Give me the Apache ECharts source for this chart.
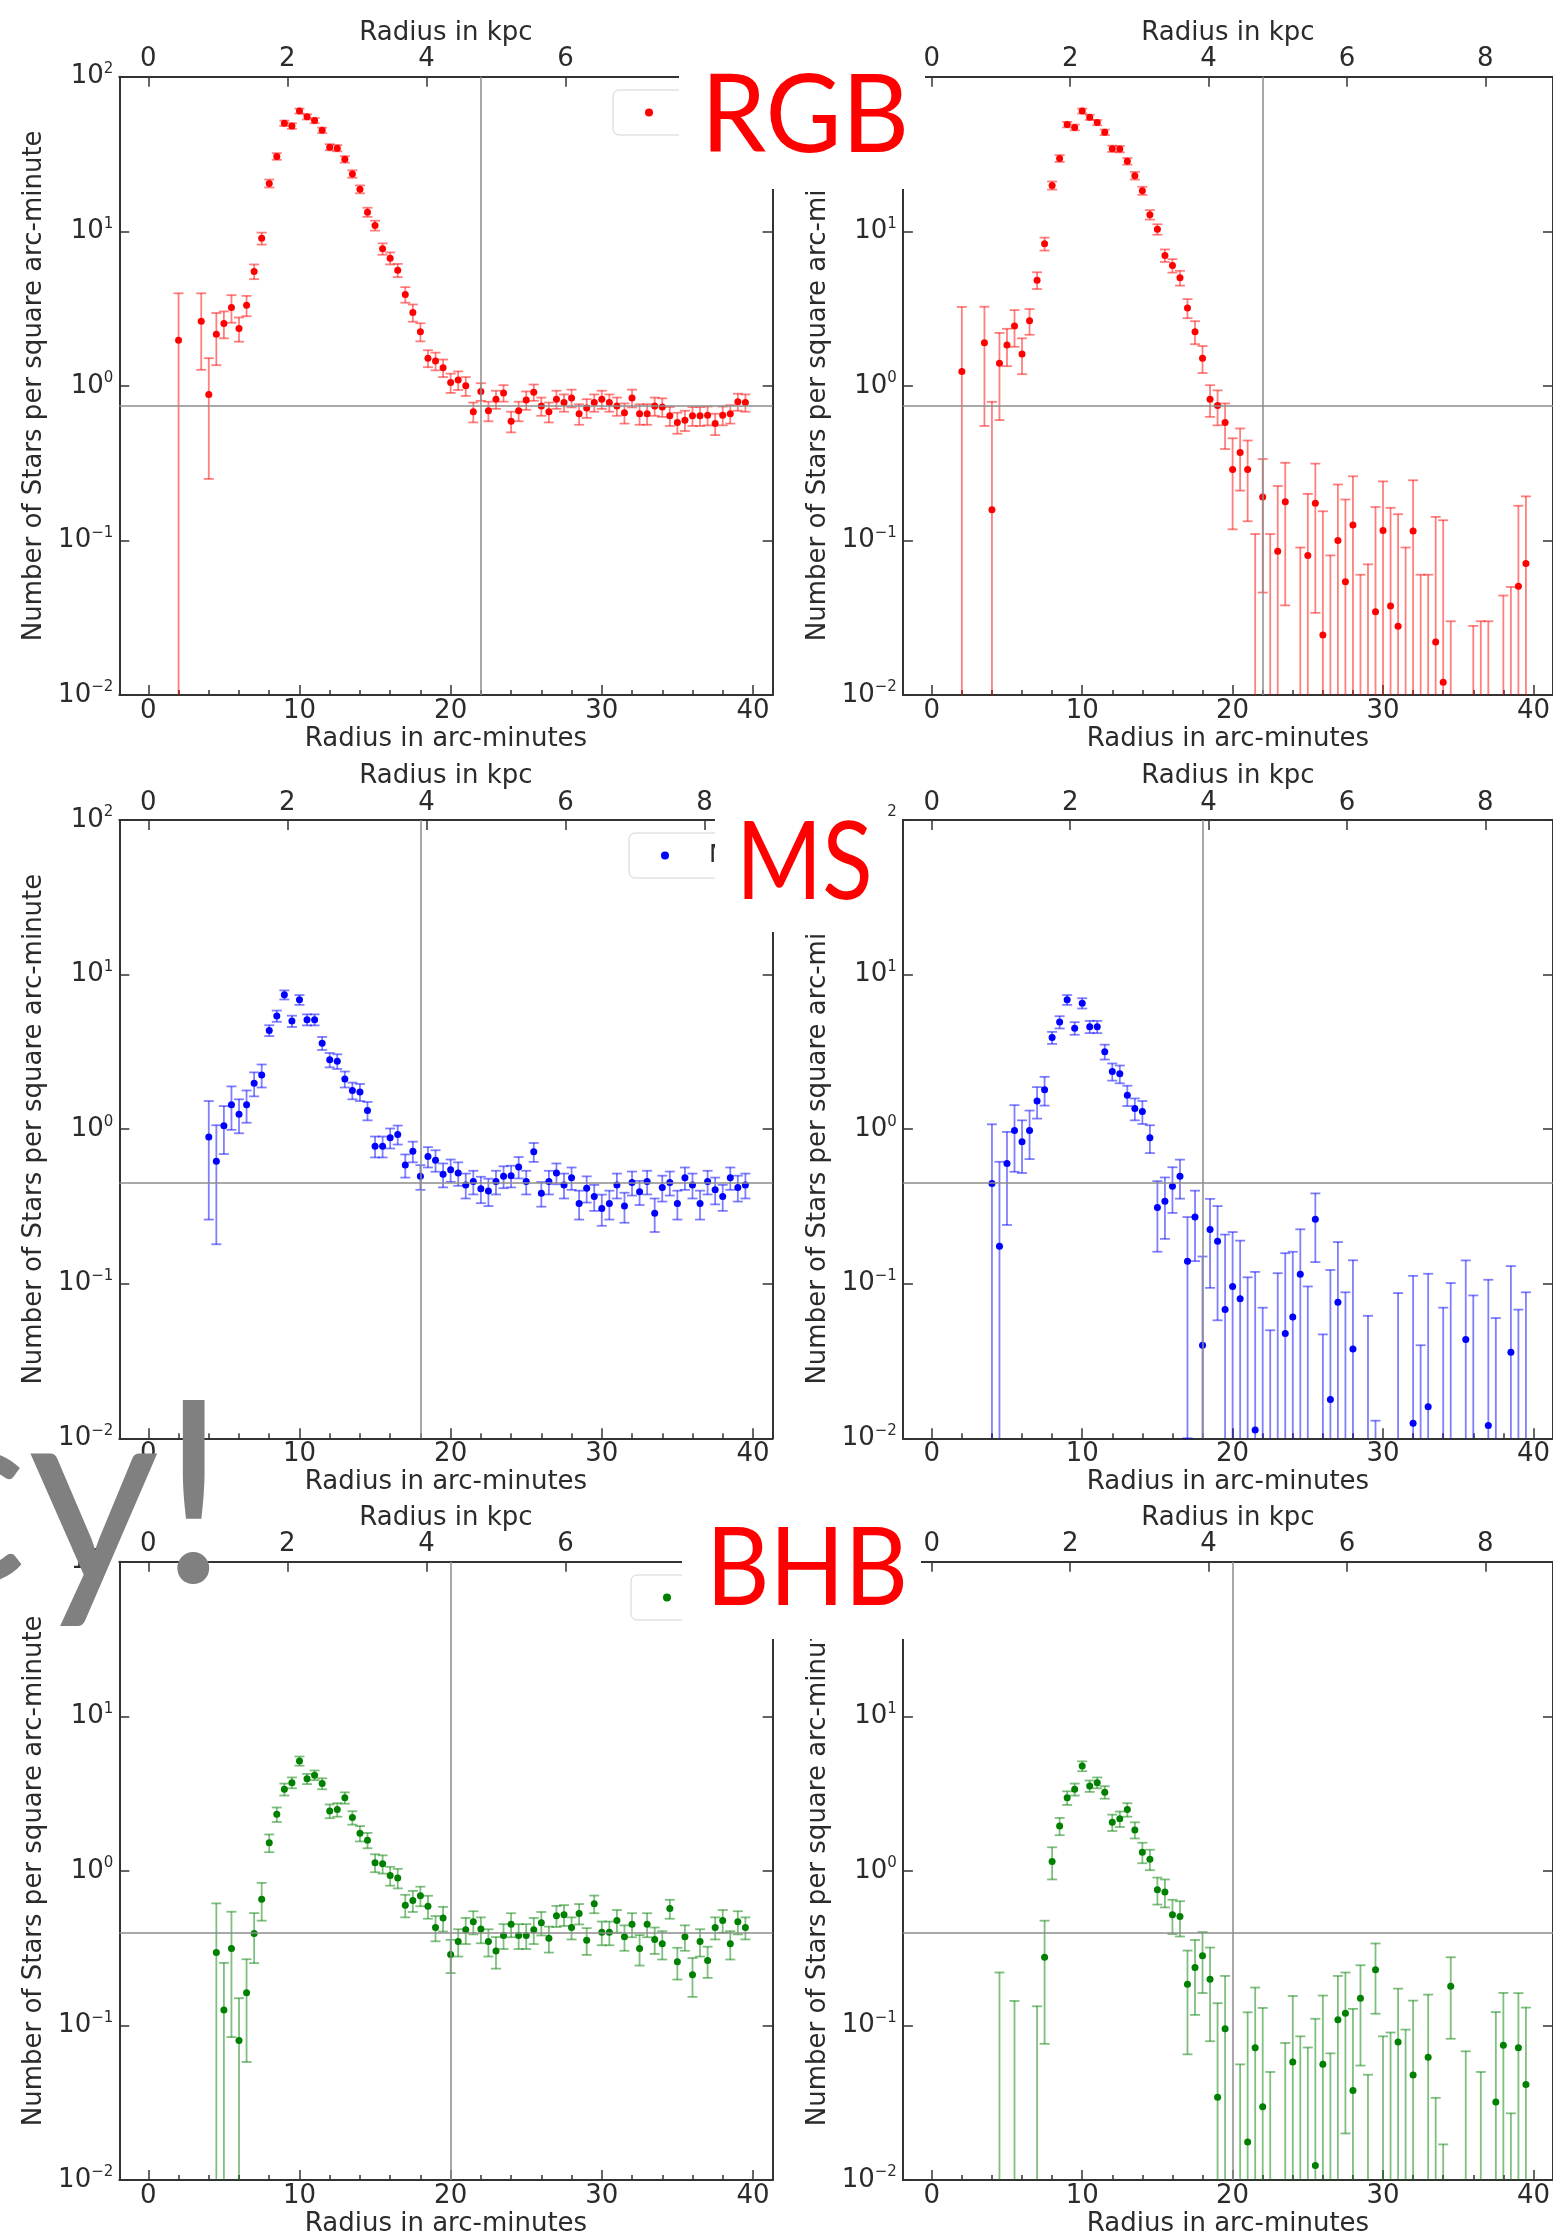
<!DOCTYPE html>
<html>
<head>
<meta charset="utf-8">
<title>Radial density profiles</title>
<script src="https://cdn.jsdelivr.net/npm/echarts@6/dist/echarts.min.js"></script>
<style>
  html, body { margin: 0; padding: 0; background: #fff; }
  #profiles { width: 1553px; height: 2239px; }
</style>
</head>
<body>
<div id="profiles"></div>
<script>
// bin centres, arc-minutes
const radius = [
  2, 2.5, 3, 3.5, 4, 4.5, 5, 5.5, 6, 6.5,
  7, 7.5, 8, 8.5, 9, 9.5, 10, 10.5, 11, 11.5,
  12, 12.5, 13, 13.5, 14, 14.5, 15, 15.5, 16, 16.5,
  17, 17.5, 18, 18.5, 19, 19.5, 20, 20.5, 21, 21.5,
  22, 22.5, 23, 23.5, 24, 24.5, 25, 25.5, 26, 26.5,
  27, 27.5, 28, 28.5, 29, 29.5, 30, 30.5, 31, 31.5,
  32, 32.5, 33, 33.5, 34, 34.5, 35, 35.5, 36, 36.5,
  37, 37.5, 38, 38.5, 39, 39.5
];

// RGB
const rgbAll = [
  1.97, null, null, 2.62, 0.88, 2.16, 2.53, 3.21, 2.35, 3.32,
  5.5, 9.0, 20.4, 30.5, 50, 48, 60, 55, 52, 45,
  35, 34.5, 29.2, 23.5, 18.7, 13.3, 10.9, 7.7, 6.7, 5.6,
  3.9, 2.98, 2.24, 1.51, 1.45, 1.31, 1.05, 1.09, 1.0, 0.68,
  0.92, 0.69, 0.82, 0.90, 0.59, 0.69, 0.81, 0.91, 0.74, 0.68,
  0.82, 0.78, 0.835, 0.66, 0.72, 0.78, 0.82, 0.78, 0.74, 0.67,
  0.835, 0.66, 0.66, 0.74, 0.73, 0.64, 0.58, 0.60, 0.64, 0.64,
  0.645, 0.57, 0.645, 0.66, 0.79, 0.78
];
const rgbAllErr = [
  2.0, null, null, 1.35, 0.63, 0.8, 0.5, 0.65, 0.42, 0.5,
  0.6, 0.8, 1.2, 1.5, 2.0, 2.0, 2.2, 2.1, 2.0, 1.8,
  1.6, 1.6, 1.4, 1.3, 1.1, 0.9, 0.8, 0.65, 0.6, 0.55,
  0.45, 0.38, 0.3, 0.19, 0.19, 0.17, 0.15, 0.15, 0.14, 0.1,
  0.12, 0.1, 0.11, 0.11, 0.09, 0.1, 0.11, 0.11, 0.1, 0.1,
  0.11, 0.1, 0.11, 0.1, 0.1, 0.1, 0.11, 0.1, 0.1, 0.1,
  0.11, 0.1, 0.1, 0.1, 0.1, 0.09, 0.09, 0.09, 0.09, 0.09,
  0.09, 0.09, 0.09, 0.09, 0.1, 0.1
];
const rgbSub = [
  1.24, null, null, 1.90, 0.158, 1.40, 1.84, 2.44, 1.61, 2.64,
  4.83, 8.3, 19.8, 29.6, 49, 47, 60, 54.6, 50.5, 43.7,
  34.2, 34, 28.4, 22.9, 18.3, 12.8, 10.3, 6.98, 6.0, 5.0,
  3.19, 2.24, 1.51, 0.82, 0.745, 0.58, 0.288, 0.37, 0.288, -0.06,
  0.191, -0.03, 0.085, 0.178, -0.15, -0.04, 0.08, 0.174, 0.0244, -0.05,
  0.1, 0.054, 0.126, -0.07, -0.06, 0.0345, 0.116, 0.0376, 0.0278, -0.04,
  0.115, -0.07, -0.07, 0.022, 0.0121, -0.09, -0.16, -0.14, -0.1, -0.1,
  -0.1, -0.17, -0.08, -0.07, 0.0506, 0.0708
];
const rgbSubErr = [
  2.0, null, null, 1.35, 0.63, 0.8, 0.5, 0.65, 0.42, 0.5,
  0.6, 0.8, 1.2, 1.5, 2.0, 2.0, 2.2, 2.1, 2.0, 1.8,
  1.6, 1.6, 1.4, 1.3, 1.1, 0.9, 0.8, 0.65, 0.6, 0.55,
  0.45, 0.38, 0.3, 0.19, 0.19, 0.19, 0.17, 0.16, 0.155, 0.17,
  0.145, 0.14, 0.14, 0.14, 0.12, 0.13, 0.12, 0.14, 0.13, 0.13,
  0.13, 0.13, 0.134, 0.13, 0.13, 0.13, 0.125, 0.125, 0.12, 0.13,
  0.13, 0.13, 0.13, 0.12, 0.123, 0.12, 0.12, 0.12, 0.128, 0.13,
  0.13, 0.12, 0.124, 0.12, 0.117, 0.122
];

// MS
const msAll = [
  null, null, null, null, 0.89, 0.62, 1.05, 1.44, 1.25, 1.44,
  1.98, 2.24, 4.35, 5.4, 7.4, 5.0, 6.87, 5.11, 5.11, 3.6,
  2.81, 2.75, 2.11, 1.78, 1.74, 1.32, 0.776, 0.776, 0.88, 0.925,
  0.586, 0.72, 0.495, 0.665, 0.63, 0.51, 0.546, 0.52, 0.436, 0.458,
  0.412, 0.398, 0.458, 0.495, 0.50, 0.57, 0.458, 0.714, 0.385, 0.458,
  0.52, 0.436, 0.485, 0.33, 0.415, 0.366, 0.307, 0.33, 0.436, 0.318,
  0.452, 0.393, 0.458, 0.286, 0.42, 0.452, 0.33, 0.485, 0.436, 0.33,
  0.458, 0.406, 0.366, 0.485, 0.42, 0.436
];
const msAllErr = [
  null, null, null, null, 0.63, 0.44, 0.36, 0.45, 0.31, 0.34,
  0.35, 0.38, 0.35, 0.45, 0.5, 0.42, 0.5, 0.42, 0.42, 0.35,
  0.3, 0.3, 0.25, 0.22, 0.22, 0.18, 0.12, 0.12, 0.13, 0.13,
  0.1, 0.11, 0.09, 0.1, 0.1, 0.09, 0.09, 0.09, 0.08, 0.08,
  0.08, 0.08, 0.08, 0.08, 0.08, 0.09, 0.08, 0.1, 0.07, 0.08,
  0.08, 0.08, 0.08, 0.07, 0.08, 0.07, 0.07, 0.07, 0.08, 0.07,
  0.08, 0.07, 0.08, 0.07, 0.08, 0.08, 0.07, 0.08, 0.08, 0.07,
  0.08, 0.08, 0.07, 0.08, 0.08, 0.08
];
const msSub = [
  null, null, null, null, 0.445, 0.175, 0.60, 0.98, 0.83, 0.98,
  1.52, 1.80, 3.91, 4.93, 6.87, 4.5, 6.53, 4.6, 4.6, 3.17,
  2.36, 2.28, 1.66, 1.36, 1.30, 0.88, 0.311, 0.341, 0.427, 0.495,
  0.14, 0.27, 0.04, 0.224, 0.188, 0.068, 0.096, 0.08, -0.01, 0.0113,
  -0.03, -0.05, -0.01, 0.0476, 0.061, 0.115, -0.01, 0.261, -0.06, 0.0178,
  0.076, -0.01, 0.0378, -0.115, -0.03, -0.08, -0.14, -0.115, -0.01, -0.127,
  0.0125, -0.05, 0.016, -0.16, -0.025, 0.007, -0.115, 0.0435, -0.01, -0.115,
  0.0121, -0.04, -0.08, 0.036, -0.025, -0.01
];
const msSubErr = [
  null, null, null, null, 0.63, 0.44, 0.36, 0.45, 0.31, 0.34,
  0.35, 0.38, 0.35, 0.45, 0.5, 0.42, 0.5, 0.42, 0.42, 0.35,
  0.3, 0.3, 0.25, 0.22, 0.22, 0.18, 0.15, 0.146, 0.14, 0.14,
  0.13, 0.13, 0.11, 0.13, 0.13, 0.14, 0.12, 0.11, 0.12, 0.108,
  0.1, 0.1, 0.127, 0.11, 0.1, 0.11, 0.106, 0.123, 0.107, 0.105,
  0.11, 0.098, 0.104, 0.08, 0.092, 0.093, 0.08, 0.08, 0.097, 0.08,
  0.1, 0.09, 0.1, 0.08, 0.095, 0.094, 0.08, 0.098, 0.094, 0.08,
  0.094, 0.1, 0.09, 0.094, 0.093, 0.098
];

// BHB
const bhbAll = [
  null, null, null, null, null, 0.296, 0.126, 0.314, 0.08, 0.163,
  0.393, 0.656, 1.52, 2.32, 3.37, 3.72, 5.14, 3.94, 4.16, 3.67,
  2.44, 2.49, 2.97, 2.21, 1.75, 1.58, 1.13, 1.11, 0.932, 0.90,
  0.60, 0.642, 0.69, 0.59, 0.43, 0.495, 0.288, 0.349, 0.416, 0.468,
  0.42, 0.349, 0.303, 0.382, 0.452, 0.382, 0.382, 0.416, 0.462, 0.366,
  0.513, 0.52, 0.43, 0.53, 0.356, 0.612, 0.40, 0.40, 0.478, 0.374,
  0.452, 0.314, 0.452, 0.36, 0.337, 0.57, 0.258, 0.374, 0.213, 0.349,
  0.263, 0.43, 0.478, 0.337, 0.468, 0.43
];
const bhbAllErr = [
  null, null, null, null, null, 0.32, 0.128, 0.23, 0.07, 0.105,
  0.14, 0.18, 0.2, 0.25, 0.3, 0.3, 0.35, 0.3, 0.3, 0.3,
  0.25, 0.25, 0.25, 0.22, 0.2, 0.18, 0.15, 0.15, 0.13, 0.13,
  0.1, 0.1, 0.1, 0.1, 0.08, 0.09, 0.07, 0.07, 0.08, 0.08,
  0.08, 0.07, 0.07, 0.07, 0.08, 0.07, 0.07, 0.08, 0.08, 0.07,
  0.08, 0.08, 0.07, 0.08, 0.07, 0.08, 0.07, 0.07, 0.08, 0.07,
  0.08, 0.07, 0.08, 0.07, 0.07, 0.08, 0.06, 0.07, 0.06, 0.07,
  0.06, 0.07, 0.08, 0.07, 0.08, 0.07
];
const bhbSub = [
  null, null, null, null, null, -0.1, -0.27, -0.086, -0.32, -0.24,
  -0.007, 0.276, 1.15, 1.95, 2.97, 3.37, 4.76, 3.54, 3.72, 3.23,
  2.06, 2.17, 2.49, 1.84, 1.32, 1.19, 0.755, 0.73, 0.52, 0.506,
  0.185, 0.237, 0.282, 0.199, 0.0343, 0.095, -0.112, -0.05, 0.0176, 0.0718,
  0.0298, -0.05, -0.097, -0.018, 0.058, -0.018, -0.018, 0.0124, 0.056, -0.034,
  0.109, 0.12, 0.038, 0.15, -0.044, 0.229, -0.005, -0.005, 0.078, -0.026,
  0.0477, -0.086, 0.0623, -0.04, -0.063, 0.179, -0.142, -0.026, -0.187, -0.05,
  -0.137, 0.032, 0.0743, -0.063, 0.0718, 0.0415
];
const bhbSubErr = [
  null, null, null, null, null, 0.32, 0.128, 0.23, 0.07, 0.105,
  0.14, 0.2, 0.27, 0.25, 0.3, 0.3, 0.35, 0.3, 0.3, 0.3,
  0.25, 0.25, 0.25, 0.22, 0.2, 0.18, 0.15, 0.15, 0.13, 0.13,
  0.12, 0.12, 0.12, 0.12, 0.105, 0.114, 0.09, 0.106, 0.104, 0.104,
  0.1, 0.1, 0.09, 0.095, 0.097, 0.103, 0.09, 0.098, 0.1, 0.1,
  0.1, 0.1, 0.09, 0.095, 0.092, 0.11, 0.09, 0.095, 0.095, 0.12,
  0.097, 0.08, 0.096, 0.074, 0.08, 0.097, 0.08, 0.094, 0.08, 0.1,
  0.08, 0.09, 0.088, 0.09, 0.09, 0.089
];

// per row: background level and the vertical marker radius
const backgroundLevel = [0.744, 0.445, 0.40];
const markerRadius = [22, 18, 20];

const arcminTicks = [0, 10, 20, 30, 40];
const arcminMinorTicks = [2, 4, 6, 8, 12, 14, 16, 18, 22, 24, 26, 28, 32, 34, 36, 38];
const kpcTicks = [0, 2, 4, 6, 8];
const kpcPerArcmin = 0.2174;

const xMin = -1.92, xMax = 41.3, yMin = 0.01, yMax = 100;
const colLeft = [119.3, 902.9];
const rowTop = [76.7, 820, 1561.7];
const plotWidth = 653.3, plotHeight = 618.3;
const legendPos = [[613, 90], [629, 833], [631, 1575]];

const axisColor = '#333';
const textColor = '#2b2b2b';
const font = 'DejaVu Sans';

const panels = [
  {name: 'RGB', values: rgbAll, errors: rgbAllErr, color: '#ff0000', legend: true},
  {name: 'RGB background subtracted', values: rgbSub, errors: rgbSubErr, color: '#ff0000'},
  {name: 'MS', values: msAll, errors: msAllErr, color: '#0000ff', legend: true},
  {name: 'MS background subtracted', values: msSub, errors: msSubErr, color: '#0000ff'},
  {name: 'BHB', values: bhbAll, errors: bhbAllErr, color: '#008000', legend: true},
  {name: 'BHB background subtracted', values: bhbSub, errors: bhbSubErr, color: '#008000'}
];

let chart = undefined

function yTickLabel(v) {
  const p = Math.round(Math.log10(v));
  return '{b|10}{s|' + (p < 0 ? '\u2212' + (-p) : String(p)) + '}';
}

// point + symmetric error bar on a log axis, clipped to the plot
function renderErrorBar(params, api) {
  const x = api.value(0), y = api.value(1), e = api.value(2);
  const color = api.visual('color');
  const hi = y + e, lo = y - e;
  const children = [];
  const barStyle = {stroke: color, lineWidth: 1.8, opacity: 0.5};
  if (hi > yMin) {
    const top = api.coord([x, Math.min(hi, yMax)]);
    const bot = api.coord([x, Math.max(lo, yMin)]);
    children.push({type: 'line', shape: {x1: top[0], y1: top[1], x2: bot[0], y2: bot[1]}, style: barStyle});
    if (hi < yMax) {
      children.push({type: 'line', shape: {x1: top[0] - 5, y1: top[1], x2: top[0] + 5, y2: top[1]}, style: barStyle});
    }
    if (lo > yMin) {
      children.push({type: 'line', shape: {x1: bot[0] - 5, y1: bot[1], x2: bot[0] + 5, y2: bot[1]}, style: barStyle});
    }
  }
  if (y > yMin) {
    const p = api.coord([x, y]);
    children.push({type: 'circle', shape: {cx: p[0], cy: p[1], r: 3.5}, style: {fill: color}});
  }
  return {type: 'group', children: children};
}

function initChart() {
  chart = echarts.init(document.getElementById('profiles'));

  const nameStyle = {fontSize: 26, fontFamily: font, color: textColor};
  const labelStyle = {fontSize: 26, fontFamily: font, color: textColor};
  const lineStyle = {color: axisColor, width: 2};
  const tickStyle = {color: axisColor, width: 1.5};

  const grid = [], xAxis = [], yAxis = [], series = [], legend = [];

  panels.forEach((p, k) => {
    const row = Math.floor(k / 2), col = k % 2;
    grid.push({left: colLeft[col], top: rowTop[row], width: plotWidth, height: plotHeight});

    xAxis.push({
      type: 'value', gridIndex: k, position: 'bottom', min: xMin, max: xMax,
      axisLine: {onZero: false, lineStyle: lineStyle},
      axisTick: {inside: true, length: 10, customValues: arcminTicks, lineStyle: tickStyle},
      axisLabel: Object.assign({customValues: arcminTicks, margin: 3}, labelStyle),
      splitLine: {show: false},
      name: 'Radius in arc-minutes', nameLocation: 'middle', nameGap: 31, nameTextStyle: nameStyle
    }, {
      type: 'value', gridIndex: k, position: 'bottom', min: xMin, max: xMax,
      axisLine: {show: false, onZero: false},
      axisTick: {inside: true, length: 5, customValues: arcminMinorTicks, lineStyle: tickStyle},
      axisLabel: {show: false},
      splitLine: {show: false}
    }, {
      type: 'value', gridIndex: k, position: 'top',
      min: xMin * kpcPerArcmin, max: xMax * kpcPerArcmin,
      axisLine: {onZero: false, lineStyle: lineStyle},
      axisTick: {inside: true, length: 10, customValues: kpcTicks, lineStyle: tickStyle},
      axisLabel: Object.assign({customValues: kpcTicks, margin: 4}, labelStyle),
      splitLine: {show: false},
      name: 'Radius in kpc', nameLocation: 'middle', nameGap: 28, nameTextStyle: nameStyle
    });

    yAxis.push({
      type: 'log', logBase: 10, gridIndex: k, position: 'left', min: yMin, max: yMax,
      axisLine: {onZero: false, lineStyle: lineStyle},
      axisTick: {inside: true, length: 10, lineStyle: tickStyle},
      axisLabel: {
        margin: 6, showMinLabel: true, showMaxLabel: true, formatter: yTickLabel,
        rich: {
          b: {fontSize: 26, lineHeight: 30, fontFamily: font, color: textColor},
          s: {fontSize: 15, lineHeight: 14, verticalAlign: 'top', fontFamily: font, color: textColor}
        }
      },
      splitLine: {show: false},
      name: 'Number of Stars per square arc-minute', nameLocation: 'middle',
      nameGap: 72, nameRotate: 90, nameTextStyle: nameStyle
    }, {
      type: 'log', logBase: 10, gridIndex: k, position: 'right', min: yMin, max: yMax,
      axisLine: {onZero: false, lineStyle: lineStyle},
      axisTick: {inside: true, length: 10, lineStyle: tickStyle},
      axisLabel: {show: false},
      splitLine: {show: false}
    });

    const data = [];
    radius.forEach((r, i) => {
      if (p.values[i] !== null) data.push([r, p.values[i], p.errors[i]]);
    });

    series.push({
      type: 'custom', name: p.name, xAxisIndex: k * 3, yAxisIndex: k * 2,
      itemStyle: {color: p.color},
      encode: {x: 0, y: 1},
      data: data,
      renderItem: renderErrorBar,
      z: 3,
      markLine: {
        silent: true, symbol: ['none', 'none'], label: {show: false},
        lineStyle: {color: '#8c8c8c', width: 1.5, type: 'solid'},
        emphasis: {disabled: true},
        data: [{yAxis: backgroundLevel[row]}, {xAxis: markerRadius[row]}]
      }
    });

    if (p.legend) {
      legend.push({
        data: [{name: p.name, icon: 'circle', itemStyle: {color: p.color}}],
        left: legendPos[row][0], top: legendPos[row][1],
        itemWidth: 8, itemHeight: 8, selectedMode: false,
        padding: [10, 30, 10, 32],
        borderColor: '#d4d4d4', borderWidth: 1, borderRadius: 6, backgroundColor: '#fff',
        formatter: n => '{g| }' + n,
        textStyle: {fontSize: 25, fontFamily: font, color: textColor, rich: {g: {width: 35}}}
      });
    }
  });

  const bigLabel = (text, x, y, sx) => ({
    type: 'text', z: 101, x: x, y: y, scaleX: sx,
    style: {text: text, fontSize: 108, fontFamily: 'Lato', fill: '#ff0000', verticalAlign: 'middle'}
  });

  const option = {
    animation: false,
    backgroundColor: '#fff',
    grid: grid,
    xAxis: xAxis,
    yAxis: yAxis,
    legend: legend,
    series: series,
    graphic: [
      // white title boxes laid over the figure panels
      {type: 'rect', z: 100, shape: {x: 679, y: 0, width: 246, height: 189}, style: {fill: '#fff'}},
      {type: 'rect', z: 100, shape: {x: 715, y: 760, width: 173, height: 172}, style: {fill: '#fff'}},
      {type: 'rect', z: 100, shape: {x: 682, y: 1500, width: 239, height: 139}, style: {fill: '#fff'}},
      bigLabel('RGB', 701, 117, 0.965),
      bigLabel('MS', 736, 864, 0.86),
      bigLabel('BHB', 706, 1570, 0.91),
      {type: 'text', z: 101, x: -94, y: 1500,
        style: {text: 'cy!', fontSize: 255, fontFamily: 'Lato', fill: '#808080', verticalAlign: 'middle'}}
    ]
  };

  chart.setOption(option);
}

initChart();
</script>
</body>
</html>
